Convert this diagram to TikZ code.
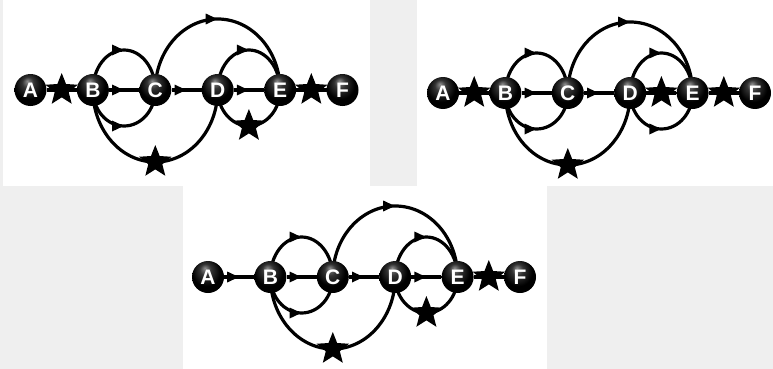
\documentclass[tikz,border=0pt]{standalone}
\usepackage{fontspec}
\setmainfont{Liberation Sans}
\usetikzlibrary{arrows.meta,decorations.markings,shapes.geometric}
\definecolor{bggray}{HTML}{EFEFEF}
\pgfdeclarelayer{bg}
\pgfdeclarelayer{edges}
\pgfsetlayers{bg,edges,main}
\pgfdeclareradialshading{nodeball}{\pgfpoint{-5bp}{14bp}}{color(0bp)=(black!45);color(9bp)=(black!80);color(22bp)=(black);color(50bp)=(black)}
\tikzset{
  vert/.style={circle, minimum size=32pt, inner sep=0pt, shading=nodeball, text=white, font=\bfseries\fontsize{21}{21}\selectfont},
  edge/.style={line width=3.2pt, black},
  midarrow/.style={postaction={decorate}, decoration={markings, mark=at position 0.5 with {\arrow{Triangle[length=12pt,width=10pt]}}}},
  starmark/.style={star, star points=5, star point ratio=2.3, minimum size=34pt, inner sep=0pt, fill=black},
  midstar/.style={postaction={decorate}, decoration={markings, mark=at position 0.5 with {\node[starmark]{};}}},
}
% nodes of one panel
\newcommand{\placenodes}[3]{%
  \foreach \L [count=\i from 0] in {A,B,C,D,E,F}
    \node[vert] (#1\L) at ({#2+62.4*\i},#3) {\L};
}
% arcs between named nodes (start node, end node, style); y axis points down
\newcommand{\smallup}[3]{\draw[edge,#3] (#1.center) arc[start angle=180,end angle=360,x radius=31.2,y radius=40];}
\newcommand{\smalldown}[3]{\draw[edge,#3] (#1.center) arc[start angle=180,end angle=0,x radius=31.2,y radius=36];}
\newcommand{\bigup}[3]{\draw[edge,#3] (#1.center) arc[start angle=180,end angle=360,x radius=62.4,y radius=71];}
\newcommand{\bigdown}[3]{\draw[edge,#3] (#1.center) arc[start angle=180,end angle=0,x radius=62.4,y radius=72];}
\begin{document}
\begin{tikzpicture}[x=1pt,y=-1pt]
\useasboundingbox (0,0) rectangle (773,369);
\begin{pgfonlayer}{bg}
  \fill[bggray] (0,0) rectangle (773,369);
  \fill[white] (3,0) rectangle (370,186);
  \fill[white] (417,0) rectangle (773,186);
  \fill[white] (183,186) rectangle (547,369);
\end{pgfonlayer}

% ---------- panel 1 ----------
\placenodes{a}{30.5}{90}
\begin{pgfonlayer}{edges}
  \draw[edge,midstar] (aA) -- (aB);
  \draw[edge,midarrow] (aB) -- (aC);
  \smallup{aB}{aC}{midarrow}
  \smalldown{aB}{aC}{midarrow}
  \draw[edge,midarrow] (aC) -- (aD);
  \bigup{aC}{aE}{midarrow}
  \draw[edge,midarrow] (aD) -- (aE);
  \smallup{aD}{aE}{midarrow}
  \smalldown{aD}{aE}{midstar}
  \bigdown{aB}{aD}{midstar}
  \draw[edge,midstar] (aE) -- (aF);
\end{pgfonlayer}

% ---------- panel 2 ----------
\placenodes{b}{443}{93}
\begin{pgfonlayer}{edges}
  \draw[edge,midstar] (bA) -- (bB);
  \draw[edge,midarrow] (bB) -- (bC);
  \smallup{bB}{bC}{midarrow}
  \smalldown{bB}{bC}{midarrow}
  \draw[edge,midarrow] (bC) -- (bD);
  \bigup{bC}{bE}{midarrow}
  \draw[edge,midstar] (bD) -- (bE);
  \smallup{bD}{bE}{midarrow}
  \smalldown{bD}{bE}{midarrow}
  \bigdown{bB}{bD}{midstar}
  \draw[edge,midstar] (bE) -- (bF);
\end{pgfonlayer}

% ---------- panel 3 ----------
\placenodes{c}{208}{277}
\begin{pgfonlayer}{edges}
  \draw[edge,midarrow] (cA) -- (cB);
  \draw[edge,midarrow] (cB) -- (cC);
  \smallup{cB}{cC}{midarrow}
  \smalldown{cB}{cC}{midarrow}
  \draw[edge,midarrow] (cC) -- (cD);
  \bigup{cC}{cE}{midarrow}
  \draw[edge,midarrow] (cD) -- (cE);
  \smallup{cD}{cE}{midarrow}
  \smalldown{cD}{cE}{midstar}
  \bigdown{cB}{cD}{midstar}
  \draw[edge,midstar] (cE) -- (cF);
\end{pgfonlayer}
\end{tikzpicture}
\end{document}
